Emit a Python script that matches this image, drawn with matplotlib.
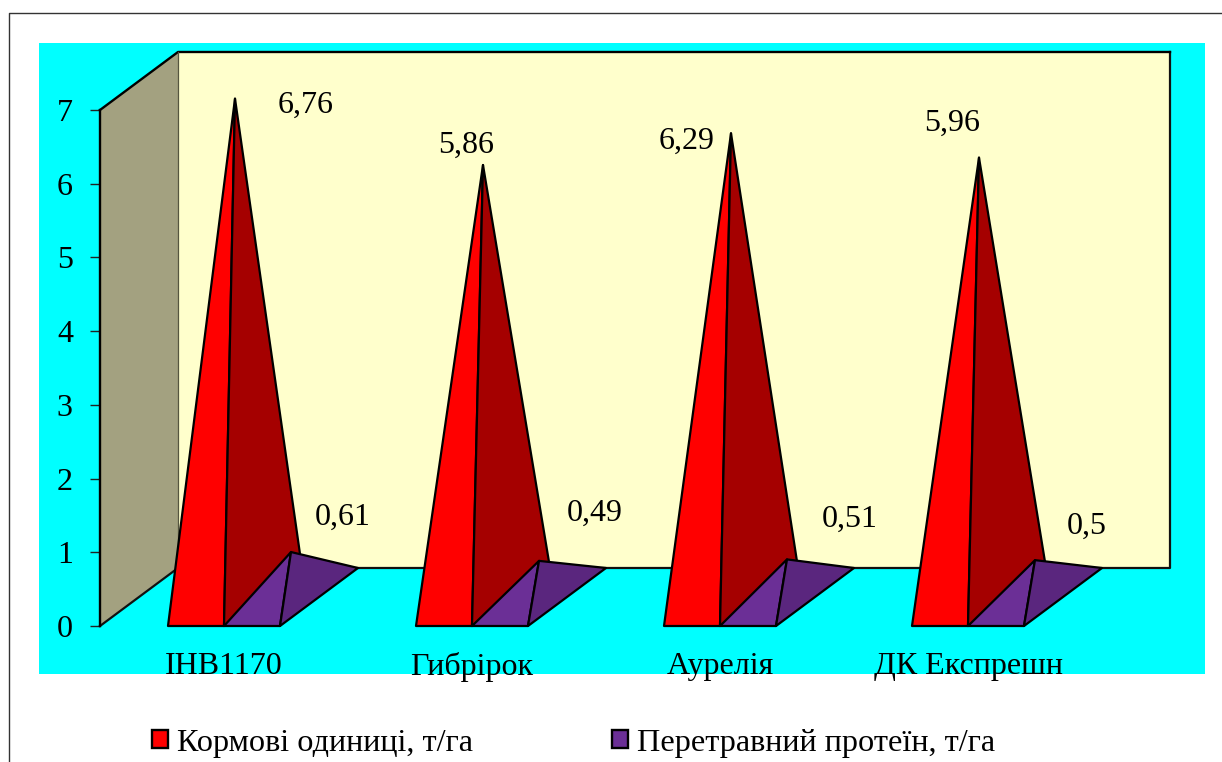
import matplotlib
matplotlib.use("Agg")
import matplotlib.pyplot as plt
from matplotlib.lines import Line2D
from matplotlib.patches import Patch, Polygon, Rectangle

plt.rcParams["font.family"] = ["Liberation Serif", "DejaVu Serif"]
plt.rcParams["font.size"] = 23

hybrids = ["ІНВ1170", "Гибрірок", "Аурелія", "ДК Експрешн"]
feed_units = [6.76, 5.86, 6.29, 5.96]
protein = [0.61, 0.49, 0.51, 0.5]
series_names = ["Кормові одиниці, т/га", "Перетравний протеїн, т/га"]
value_labels_feed = ["6,76", "5,86", "6,29", "5,96"]
value_labels_protein = ["0,61", "0,49", "0,51", "0,5"]

# label offsets from the pyramid tip, in points
feed_offsets = [(51, -5), (-12, 14), (-32, -6), (-19, 25)]
protein_offsets = [(37, 25), (40, 34), (45, 29), (37, 24)]

W, H = 1222, 762
RED, RED_DARK = "#ff0000", "#a50000"
PURPLE, PURPLE_DARK = "#6b2f96", "#5a267e"

fig = plt.figure(figsize=(W / 100, H / 100), dpi=100, facecolor="white")
ax = fig.add_axes([100 / W, 1 - 626 / H, 992 / W, 516 / H])
ax.set_xlim(0, 4)
ax.set_ylim(0, 7)
ax.patch.set_visible(False)

# page frame and chart area sit behind the axes
fig.add_artist(Line2D([9 / W, 9 / W, 1], [0, 1 - 13 / H, 1 - 13 / H], color="#333333", lw=1, zorder=-2))
fig.add_artist(Rectangle((39 / W, 1 - 674 / H), 1166 / W, 631 / H, facecolor="#00ffff", edgecolor="none",
                         zorder=-1))

# depth of the fake 3D box in data units
DX = 78 / 248
DY = 58 / 73.7
BAR_W = 56 / 248
GAP = 68 / 248

for s in ["top", "right", "bottom"]:
    ax.spines[s].set_visible(False)
ax.spines["left"].set_linewidth(1.7)
ax.spines["left"].set_zorder(5)

back = Rectangle((DX, DY), 4, 7, facecolor="#ffffcc", edgecolor="none", clip_on=False, zorder=1)
wall = Polygon([(0, 0), (DX, DY), (DX, 7 + DY), (0, 7)], facecolor="#a3a180", edgecolor="none",
               clip_on=False, zorder=1)
ax.add_patch(back)
ax.add_patch(wall)
ax.plot([0, DX, DX + 4, DX + 4], [0, DY, DY, 7 + DY], color="#111111", lw=1.6, clip_on=False, zorder=2)
ax.plot([0, DX, DX + 4], [7, 7 + DY, 7 + DY], color="black", lw=1.7, clip_on=False, zorder=2)
ax.plot([DX, DX], [DY, 7 + DY], color="#55553f", lw=0.9, clip_on=False, zorder=2)


def pyramid(x0, value, front, side, z):
    # front face plus right face of a square pyramid standing on the floor
    apex = (x0 + BAR_W / 2 + DX / 2, DY / 2 + value)
    ax.add_patch(Polygon([(x0, 0), (x0 + BAR_W, 0), apex], facecolor=front, edgecolor="black",
                         lw=1.6, joinstyle="round", clip_on=False, zorder=z))
    ax.add_patch(Polygon([(x0 + BAR_W, 0), (x0 + BAR_W + DX, DY), apex], facecolor=side, edgecolor="black",
                         lw=1.6, joinstyle="round", clip_on=False, zorder=z))
    return apex


for i, name in enumerate(hybrids):
    x0 = i + GAP
    tip = pyramid(x0, feed_units[i], RED, RED_DARK, 3 + i * 0.1)
    ax.annotate(value_labels_feed[i], tip, xytext=feed_offsets[i], textcoords="offset points",
                ha="center", va="center", annotation_clip=False, zorder=6)
    tip = pyramid(x0 + BAR_W, protein[i], PURPLE, PURPLE_DARK, 3.05 + i * 0.1)
    ax.annotate(value_labels_protein[i], tip, xytext=protein_offsets[i], textcoords="offset points",
                ha="center", va="center", annotation_clip=False, zorder=6)

ax.set_yticks(range(8))
ax.tick_params(axis="y", length=7, width=1, pad=12.5, color="#222222")
ax.set_xticks([i + 0.5 for i in range(4)])
ax.set_xticklabels(hybrids)
ax.tick_params(axis="x", length=0, pad=19)

handles = [Patch(facecolor=RED, edgecolor="black", lw=1.7), Patch(facecolor=PURPLE, edgecolor="black", lw=1.7)]
fig.legend(handles, series_names, loc="center left", bbox_to_anchor=(152 / W, 1 - 743 / H), ncol=2, frameon=False,
           fontsize=23.2, handlelength=0.5, handleheight=0.5, handletextpad=0.28, columnspacing=4.31,
           borderpad=0, borderaxespad=0)

fig.savefig("out.png", dpi=100)
